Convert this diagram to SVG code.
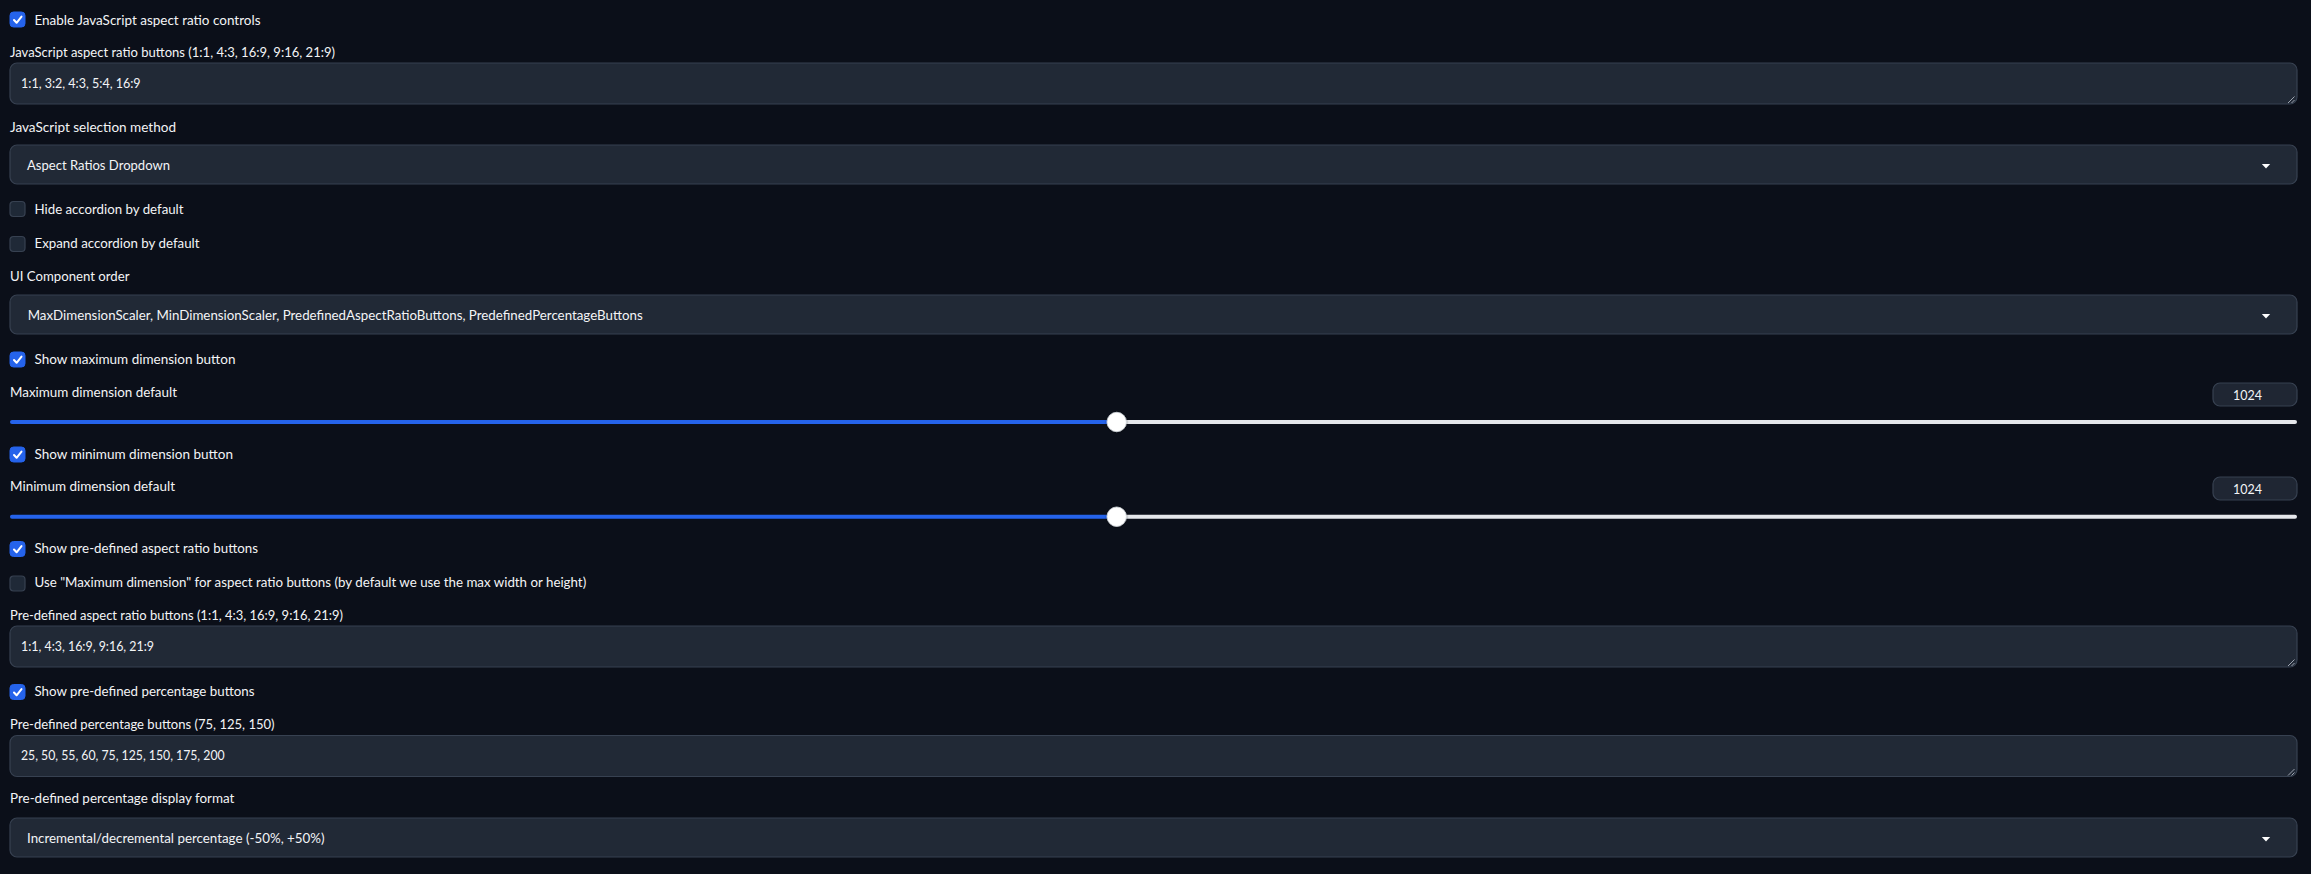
<svg xmlns="http://www.w3.org/2000/svg" width="2311" height="874" viewBox="0 0 2311 874">
<style>
text{font-family:"Lato","Noto Sans","Liberation Sans",sans-serif;font-size:14px;fill:#f3f4f6}
.box{fill:#212936;stroke:#374151;stroke-width:1.2}
.cbon{fill:#2563eb;stroke:#2563eb;stroke-width:1}
.cboff{fill:#1f2937;stroke:#374151;stroke-width:1.2}
.chk{fill:none;stroke:#ffffff;stroke-width:2;stroke-linecap:round;stroke-linejoin:round}
.arrow{fill:#ffffff}
.grip{stroke:#9ca3af;stroke-width:1}
.tblue{stroke:#2563eb;stroke-width:4;stroke-linecap:round}
.twhite{stroke:#e5e7eb;stroke-width:4;stroke-linecap:round}
.thumb{fill:#ffffff;stroke:#d1d5db;stroke-width:0.8}
.num{fill:#1f2633;stroke:#374151;stroke-width:1.2}
</style>
<defs>
<g id="cbOn"><rect class="cbon" x="0" y="0" width="15" height="15" rx="3.5"/><path class="chk" d="M4 8 L6.6 10.8 L11.5 4.6"/></g>
<rect id="cbOff" class="cboff" x="0" y="0" width="15" height="15" rx="3.5"/>
<path id="ddArrow" class="arrow" d="M-4.2 0 H4.2 L0 4.5 Z"/>
<g id="grip"><line class="grip" x1="-1" y1="6.5" x2="5.5" y2="0"/><line class="grip" x1="2.5" y1="6.5" x2="5.5" y2="3.5"/></g>
<filter id="sh" x="-50%" y="-50%" width="200%" height="200%"><feDropShadow dx="0" dy="0.5" stdDeviation="1" flood-color="#000" flood-opacity="0.5"/></filter>
</defs>
<rect x="0" y="0" width="2311" height="874" fill="#0b0f19"/>

<g id="enable-js">
<use href="#cbOn" x="10" y="12"/>
<text x="34.5" y="24.5" textLength="226" lengthAdjust="spacingAndGlyphs">Enable JavaScript aspect ratio controls</text>
</g>

<g id="js-buttons">
<text x="10" y="56.5" textLength="325" lengthAdjust="spacingAndGlyphs">JavaScript aspect ratio buttons (1:1, 4:3, 16:9, 9:16, 21:9)</text>
<rect class="box" x="10" y="63" width="2287" height="41" rx="7"/>
<text x="21" y="88" textLength="119.6" lengthAdjust="spacingAndGlyphs">1:1, 3:2, 4:3, 5:4, 16:9</text>
<use href="#grip" x="2289" y="96.5"/>
</g>

<g id="js-method">
<text x="10" y="131.5" textLength="166" lengthAdjust="spacingAndGlyphs">JavaScript selection method</text>
<rect class="box" x="10" y="145" width="2287" height="39" rx="7"/>
<text x="27" y="169.5" textLength="143" lengthAdjust="spacingAndGlyphs">Aspect Ratios Dropdown</text>
<use href="#ddArrow" x="2266" y="164"/>
</g>

<g id="hide-accordion">
<use href="#cbOff" x="10" y="201.5"/>
<text x="34.5" y="213.8" textLength="149" lengthAdjust="spacingAndGlyphs">Hide accordion by default</text>
</g>

<g id="expand-accordion">
<use href="#cbOff" x="10" y="236.5"/>
<text x="34.5" y="247.8" textLength="165" lengthAdjust="spacingAndGlyphs">Expand accordion by default</text>
</g>

<g id="ui-order">
<text x="10" y="280.5" textLength="119.5" lengthAdjust="spacingAndGlyphs">UI Component order</text>
<rect class="box" x="10" y="295" width="2287" height="39" rx="7"/>
<text x="27.7" y="320" textLength="615" lengthAdjust="spacingAndGlyphs">MaxDimensionScaler, MinDimensionScaler, PredefinedAspectRatioButtons, PredefinedPercentageButtons</text>
<use href="#ddArrow" x="2266" y="314"/>
</g>

<g id="show-max">
<use href="#cbOn" x="10" y="352"/>
<text x="34.5" y="363.5" textLength="201" lengthAdjust="spacingAndGlyphs">Show maximum dimension button</text>
</g>

<g id="max-default">
<text x="10" y="396.7" textLength="167" lengthAdjust="spacingAndGlyphs">Maximum dimension default</text>
<rect class="num" x="2213" y="383" width="84" height="23" rx="7"/>
<text x="2233" y="399.5" textLength="29" lengthAdjust="spacingAndGlyphs">1024</text>
<line class="twhite" x1="1117" y1="422" x2="2295" y2="422"/>
<line class="tblue" x1="12" y1="422" x2="1117" y2="422"/>
<circle class="thumb" cx="1116.7" cy="422" r="9.7" filter="url(#sh)"/>
</g>

<g id="show-min">
<use href="#cbOn" x="10" y="447"/>
<text x="34.5" y="458.5" textLength="198.5" lengthAdjust="spacingAndGlyphs">Show minimum dimension button</text>
</g>

<g id="min-default">
<text x="10" y="490.7" textLength="165" lengthAdjust="spacingAndGlyphs">Minimum dimension default</text>
<rect class="num" x="2213" y="477" width="84" height="23" rx="7"/>
<text x="2233" y="493.5" textLength="29" lengthAdjust="spacingAndGlyphs">1024</text>
<line class="twhite" x1="1117" y1="516.7" x2="2295" y2="516.7"/>
<line class="tblue" x1="12" y1="516.7" x2="1117" y2="516.7"/>
<circle class="thumb" cx="1116.7" cy="516.7" r="9.7" filter="url(#sh)"/>
</g>

<g id="show-aspect">
<use href="#cbOn" x="10" y="541.5"/>
<text x="34.5" y="552.7" textLength="223.5" lengthAdjust="spacingAndGlyphs">Show pre-defined aspect ratio buttons</text>
</g>

<g id="use-max">
<use href="#cbOff" x="10" y="576"/>
<text x="34.5" y="586.7" textLength="551.7" lengthAdjust="spacingAndGlyphs">Use "Maximum dimension" for aspect ratio buttons (by default we use the max width or height)</text>
</g>

<g id="aspect-buttons">
<text x="10" y="620" textLength="333" lengthAdjust="spacingAndGlyphs">Pre-defined aspect ratio buttons (1:1, 4:3, 16:9, 9:16, 21:9)</text>
<rect class="box" x="10" y="626" width="2287" height="41" rx="7"/>
<text x="21" y="651" textLength="133" lengthAdjust="spacingAndGlyphs">1:1, 4:3, 16:9, 9:16, 21:9</text>
<use href="#grip" x="2289" y="659.5"/>
</g>

<g id="show-percentage">
<use href="#cbOn" x="10" y="684.5"/>
<text x="34.5" y="696" textLength="220" lengthAdjust="spacingAndGlyphs">Show pre-defined percentage buttons</text>
</g>

<g id="percentage-buttons">
<text x="10" y="729.3" textLength="264.6" lengthAdjust="spacingAndGlyphs">Pre-defined percentage buttons (75, 125, 150)</text>
<rect class="box" x="10" y="735.5" width="2287" height="41" rx="7"/>
<text x="21" y="760" textLength="203.6" lengthAdjust="spacingAndGlyphs">25, 50, 55, 60, 75, 125, 150, 175, 200</text>
<use href="#grip" x="2289" y="769"/>
</g>

<g id="percentage-format">
<text x="10" y="803.3" textLength="224.4" lengthAdjust="spacingAndGlyphs">Pre-defined percentage display format</text>
<rect class="box" x="10" y="818" width="2287" height="39" rx="7"/>
<text x="27" y="842.7" textLength="297.6" lengthAdjust="spacingAndGlyphs">Incremental/decremental percentage (-50%, +50%)</text>
<use href="#ddArrow" x="2266" y="837"/>
</g>

<g id="connectors"></g>
</svg>
